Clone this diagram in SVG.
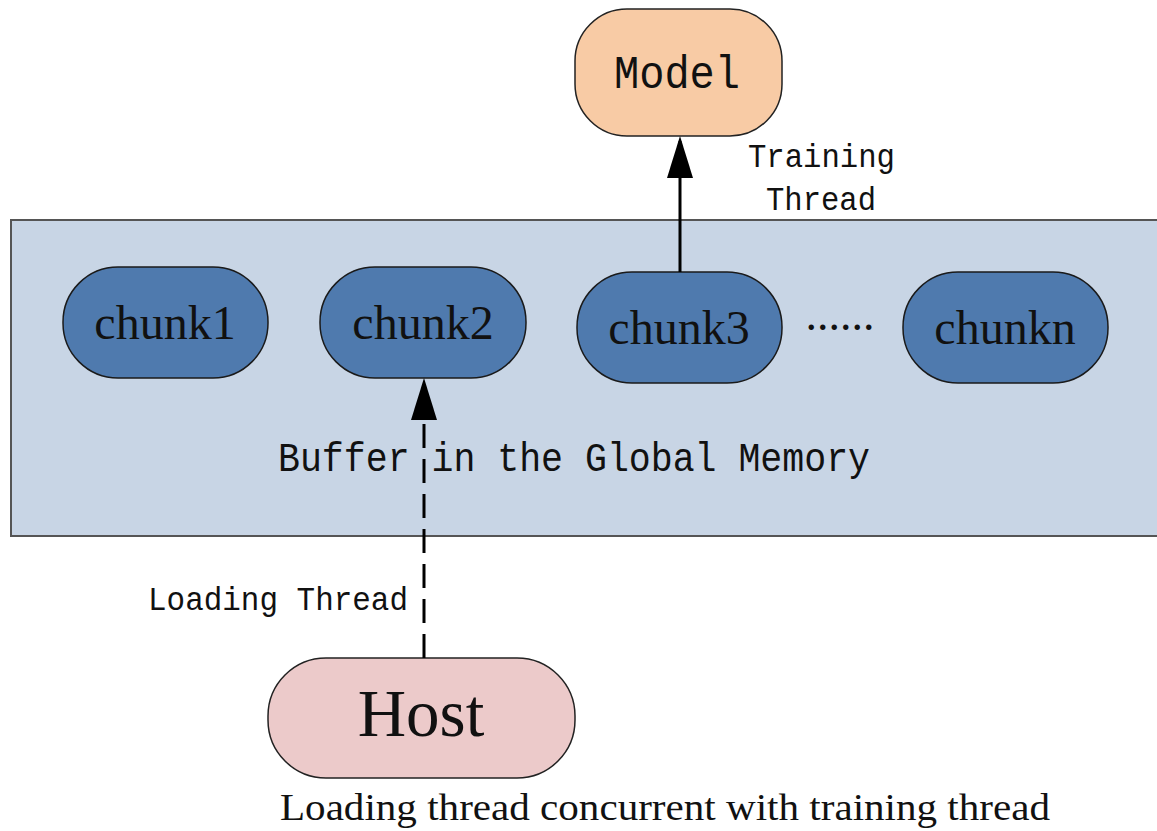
<svg xmlns="http://www.w3.org/2000/svg" width="1157" height="831" viewBox="0 0 1157 831">
<style>
.chunk{fill:#4f7aae;stroke:#1a1a1a;stroke-width:1.5}
.ctext{font-family:"Liberation Serif",serif;font-size:48px;fill:#111;text-anchor:middle}
.mono{font-family:"Liberation Mono",monospace;fill:#111}
.serif{font-family:"Liberation Serif",serif;fill:#111}
</style>
<defs>
<marker id="arr" markerWidth="42" markerHeight="26" refX="37" refY="13" orient="auto" markerUnits="userSpaceOnUse" viewBox="0 0 42 26">
<path d="M0,0 L42,13 L0,26 Z" fill="#000"/>
</marker>
</defs>
<rect width="1157" height="831" fill="#fff"/>
<g id="buffer">
<rect x="11" y="220" width="1150" height="316" fill="#c8d5e5" stroke="#555" stroke-width="2"/>
<text class="mono" x="278" y="471" font-size="41" textLength="592" lengthAdjust="spacingAndGlyphs">Buffer in the Global Memory</text>
</g>
<g id="model">
<rect x="575" y="9" width="207" height="127" rx="52" fill="#f8cba5" stroke="#222" stroke-width="1.5"/>
<text class="mono" x="614" y="88" font-size="46" textLength="126" lengthAdjust="spacingAndGlyphs">Model</text>
</g>
<g id="chunk1"><rect class="chunk" x="63" y="267" width="205" height="111" rx="55"/><text class="ctext" x="165" y="339">chunk1</text></g>
<g id="chunk2"><rect class="chunk" x="320" y="267" width="206" height="111" rx="55"/><text class="ctext" x="423" y="339">chunk2</text></g>
<g id="chunk3"><rect class="chunk" x="577" y="272" width="205" height="111" rx="55"/><text class="ctext" x="679" y="344">chunk3</text></g>
<g id="dots"><text class="serif" x="840" y="330" font-size="46" text-anchor="middle">......</text></g>
<g id="chunkn"><rect class="chunk" x="903" y="272" width="205" height="111" rx="55"/><text class="ctext" x="1005" y="344">chunkn</text></g>
<g id="host">
<rect x="268" y="658" width="307" height="120" rx="58" fill="#eccaca" stroke="#222" stroke-width="1.5"/>
<text class="serif" x="421" y="736" font-size="67" text-anchor="middle">Host</text>
</g>
<g id="connectors">
<line x1="680" y1="272" x2="680" y2="141" stroke="#000" stroke-width="3" marker-end="url(#arr)"/>
<line x1="424" y1="658" x2="424" y2="383" stroke="#000" stroke-width="3" stroke-dasharray="24,11" marker-end="url(#arr)"/>
<text class="mono" x="748" y="167" font-size="34" textLength="147" lengthAdjust="spacingAndGlyphs">Training</text>
<text class="mono" x="766" y="210" font-size="34" textLength="110" lengthAdjust="spacingAndGlyphs">Thread</text>
<text class="mono" x="148" y="610" font-size="33" textLength="260" lengthAdjust="spacingAndGlyphs">Loading Thread</text>
</g>
<g id="caption">
<text class="serif" x="280" y="820" font-size="37" textLength="770" lengthAdjust="spacingAndGlyphs">Loading thread concurrent with training thread</text>
</g>
</svg>
